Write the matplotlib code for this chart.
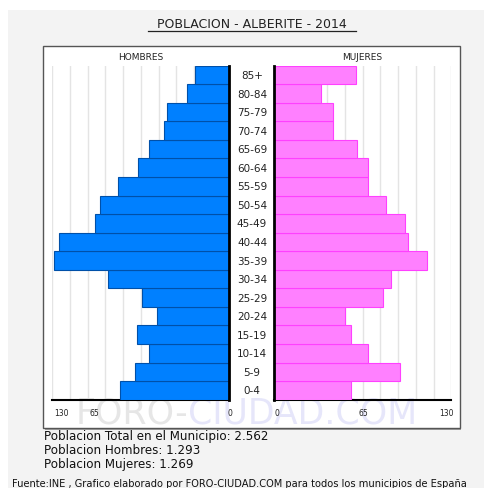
import matplotlib
matplotlib.use("Agg")
import matplotlib.pyplot as plt
import numpy as np
from matplotlib.patches import Rectangle
from matplotlib.lines import Line2D
from matplotlib.transforms import blended_transform_factory

# data, youngest group first
ages = ['0-4', '5-9', '10-14', '15-19', '20-24', '25-29', '30-34', '35-39', '40-44',
        '45-49', '50-54', '55-59', '60-64', '65-69', '70-74', '75-79', '80-84', '85+']
hombres = [80, 69, 59, 68, 53, 64, 89, 129, 125, 99, 95, 82, 67, 59, 48, 46, 31, 25]
mujeres = [56, 92, 69, 56, 52, 80, 86, 112, 98, 96, 82, 69, 69, 61, 43, 43, 34, 60]
totales = ['Poblacion Total en el Municipio: 2.562',
           'Poblacion Hombres: 1.293',
           'Poblacion Mujeres: 1.269']

W, H = 485, 489
fig = plt.figure(figsize=(W / 100, H / 100), dpi=100)
fig.patch.set_facecolor('white')

def fx(px):
    return px / W

def fy(py):
    return 1 - py / H

# gray panel and white frame (behind the axes)
fig.patches.append(Rectangle((fx(8), 0), 1 - fx(8), fy(11), transform=fig.transFigure,
                             facecolor='#f3f3f3', edgecolor='none', zorder=-10))
fig.patches.append(Rectangle((fx(45), fy(431)), fx(461) - fx(45), fy(47) - fy(431),
                             transform=fig.transFigure, facecolor='#a0a0a0', edgecolor='none', zorder=-9))
fig.patches.append(Rectangle((fx(43), fy(429)), fx(460) - fx(43), fy(47) - fy(429),
                             transform=fig.transFigure, facecolor='white', edgecolor='#555555',
                             linewidth=1, zorder=-8))

# watermark
fig.text(fx(188), fy(414), 'FORO-', ha='right', va='center', fontsize=25, color='#e6e6e6', zorder=-5)
fig.text(fx(188), fy(414), 'CIUDAD.COM', ha='left', va='center', fontsize=25, color='#e6e6fa', zorder=-5)

bot, top = 400.7, 66.7
ax_l = fig.add_axes([fx(52.3), fy(bot), fx(229.3) - fx(52.3), fy(top) - fy(bot)])
ax_r = fig.add_axes([fx(274.3), fy(bot), fx(451.3) - fx(274.3), fy(top) - fy(bot)])
y = np.arange(len(ages))

ax_l.barh(y, hombres, height=1, color='#0080ff', edgecolor='#0050a8', linewidth=0.8, zorder=3)
ax_r.barh(y, mujeres, height=1, color='#ff80ff', edgecolor='#ff40ff', linewidth=0.8, zorder=3)
ax_l.set_xlim(130, 0)
ax_r.set_xlim(0, 130)

for ax, zero in ((ax_l, 'right'), (ax_r, 'left')):
    ax.set_facecolor('none')
    ax.set_ylim(-0.5, len(ages) - 0.5)
    ax.set_xticks(np.arange(0, 131, 13))
    ax.set_yticks([])
    ax.grid(axis='x', color='#e4e4e4', linewidth=1, zorder=0)
    ax.tick_params(axis='x', length=0, labelbottom=False)
    for s in ax.spines.values():
        s.set_visible(False)
    ax.spines[zero].set_visible(True)
    ax.spines[zero].set_linewidth(2)
    ax.spines[zero].set_color('black')
    ax.spines[zero].set_zorder(5)
    ax.spines['bottom'].set_visible(True)
    ax.spines['bottom'].set_linewidth(1.5)
    ax.spines['bottom'].set_color('black')

# age labels in the middle
tr = blended_transform_factory(fig.transFigure, ax_l.transData)
for i, a in enumerate(ages):
    ax_l.text(fx(252), i, a, transform=tr, ha='center', va='center', fontsize=7.5,
              color='#222222', clip_on=False)

# scale labels
for txt, px in (('130', 61), ('65', 94), ('0', 230), ('0', 277), ('65', 363), ('130', 446)):
    fig.text(fx(px), fy(414), txt, ha='center', va='center', fontsize=5.5, color='#222222')

fig.text(fx(141), fy(57), 'HOMBRES', ha='center', va='center', fontsize=6.5, color='#222222')
fig.text(fx(362), fy(57), 'MUJERES', ha='center', va='center', fontsize=6.5, color='#222222')

# title
fig.text(fx(252), fy(25), 'POBLACION - ALBERITE - 2014', ha='center', va='center',
         fontsize=9, color='#222222')
fig.lines.append(Line2D([fx(148), fx(356)], [fy(32), fy(32)], transform=fig.transFigure,
                        color='#222222', linewidth=0.9))

for k, t in enumerate(totales):
    fig.text(fx(44), fy(437 + 14 * k), t, ha='left', va='center', fontsize=8.6, color='#111111')

fig.text(fx(12), fy(484), 'Fuente:INE , Grafico elaborado por FORO-CIUDAD.COM para todos los municipios de España',
         ha='left', va='center', fontsize=7.1, color='#111111')

fig.savefig('out.png', dpi=100)
